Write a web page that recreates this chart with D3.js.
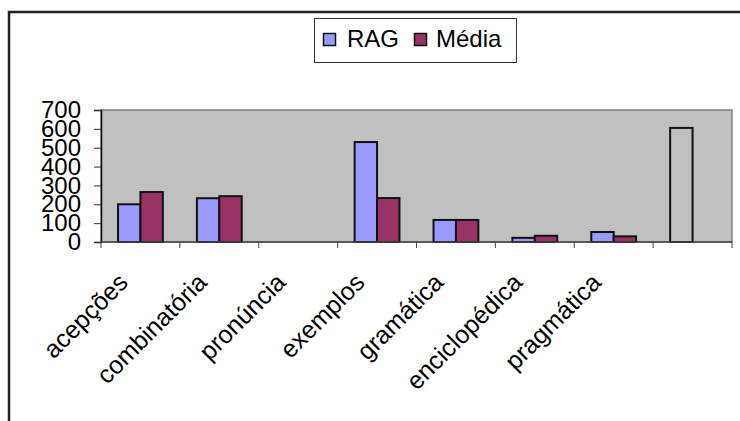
<!DOCTYPE html>
<html>
<head>
<meta charset="utf-8">
<script src="https://cdn.jsdelivr.net/npm/d3@7/dist/d3.min.js"></script>
<style>
  html, body { margin: 0; padding: 0; background: #fff; }
  svg { display: block; }
  text { font-family: "Liberation Sans", Arial, sans-serif; }
</style>
</head>
<body>
<svg id="chart" width="740" height="421"></svg>
<script>
// Categories along the x axis (the last slot has no label)
const categories = ["acepções", "combinatória", "pronúncia", "exemplos", "gramática", "enciclopédica", "pragmática", ""];
const seriesNames = ["RAG", "Média"];
const ragValues = [200, 232, 0, 530, 117, 22, 53, 605];
const mediaValues = [265, 243, 0, 233, 117, 33, 30, 0];
const yTickValues = [0, 100, 200, 300, 400, 500, 600, 700];

const seriesColors = { "RAG": "#9999FF", "Média": "#993366" };

const svg = d3.select("#chart");
const W = 740, H = 421;

// Outer chart frame (runs off the right and bottom edges)
svg.append("rect")
  .attr("x", 9).attr("y", 12)
  .attr("width", W + 20).attr("height", H + 20)
  .attr("fill", "#fff")
  .attr("stroke", "#222").attr("stroke-width", 2.5);

const plot = { left: 101, right: 732, top: 110, bottom: 242 };

const x0 = d3.scaleBand().domain(categories).range([plot.left, plot.right]).padding(0);
const x1 = d3.scaleBand().domain(seriesNames).range([0, x0.bandwidth()])
  .paddingInner(0).paddingOuter(0.76);
const y = d3.scaleLinear().domain([0, 700]).range([plot.bottom, plot.top]);

// Plot area
svg.append("rect")
  .attr("x", plot.left).attr("y", plot.top)
  .attr("width", plot.right - plot.left).attr("height", plot.bottom - plot.top)
  .attr("fill", "#C0C0C0")
  .attr("stroke", "#808080").attr("stroke-width", 1.5);

// Bars
const rows = categories.map((c, i) => ({
  cat: c,
  values: [
    { series: "RAG", value: ragValues[i] },
    { series: "Média", value: mediaValues[i] }
  ]
}));

const groups = svg.append("g").selectAll("g")
  .data(rows).join("g")
  .attr("transform", d => `translate(${x0(d.cat)},0)`);

groups.selectAll("rect")
  .data(d => d.values.filter(v => v.value > 0).map(v => ({ ...v, cat: d.cat })))
  .join("rect")
  .attr("x", d => x1(d.series))
  .attr("y", d => y(d.value))
  .attr("width", x1.bandwidth())
  .attr("height", d => y(0) - y(d.value))
  .attr("fill", d => d.cat === "" ? "none" : seriesColors[d.series])
  .attr("stroke", "#111").attr("stroke-width", 2);

// Y axis
const yAxis = d3.axisLeft(y).tickValues(yTickValues).tickSize(7).tickPadding(13).tickFormat(d3.format("d"));
const gy = svg.append("g").attr("transform", `translate(${plot.left},0)`).call(yAxis);
gy.select(".domain").attr("stroke", "#111").attr("stroke-width", 1.5);
gy.selectAll(".tick line").attr("stroke", "#333");
gy.selectAll(".tick text")
  .attr("font-size", 24).attr("fill", "#000")
  .style("font-family", "'Liberation Sans', Arial, sans-serif");

// X axis baseline with ticks at category boundaries
svg.append("line")
  .attr("x1", plot.left).attr("x2", plot.right)
  .attr("y1", plot.bottom).attr("y2", plot.bottom)
  .attr("stroke", "#444").attr("stroke-width", 1.5);
const bounds = categories.map(c => x0(c)).concat([plot.right]);
svg.append("g").selectAll("line").data(bounds).join("line")
  .attr("x1", d => d).attr("x2", d => d)
  .attr("y1", plot.bottom).attr("y2", plot.bottom + 6)
  .attr("stroke", "#444").attr("stroke-width", 1);

// Rotated category labels
svg.append("g").selectAll("text")
  .data(categories.filter(c => c !== ""))
  .join("text")
  .attr("transform", d => `translate(${x0(d) + x0.bandwidth() / 2 - 11},284) rotate(-45)`)
  .attr("text-anchor", "end")
  .attr("font-size", 25)
  .attr("fill", "#000")
  .text(d => d);

// Legend
const legend = svg.append("g");
legend.append("rect")
  .attr("x", 314.5).attr("y", 18.5).attr("width", 202).attr("height", 44)
  .attr("fill", "#fff").attr("stroke", "#333").attr("stroke-width", 1);
const legendItems = [
  { name: seriesNames[0], sx: 323.5, tx: 347 },
  { name: seriesNames[1], sx: 414.5, tx: 436 }
];
legendItems.forEach(it => {
  legend.append("rect")
    .attr("x", it.sx).attr("y", 33.5).attr("width", 12).attr("height", 12)
    .attr("fill", seriesColors[it.name]).attr("stroke", "#111").attr("stroke-width", 1.5);
  legend.append("text")
    .attr("x", it.tx).attr("y", 47)
    .attr("font-size", 24).attr("fill", "#000")
    .text(it.name);
});
</script>
</body>
</html>
